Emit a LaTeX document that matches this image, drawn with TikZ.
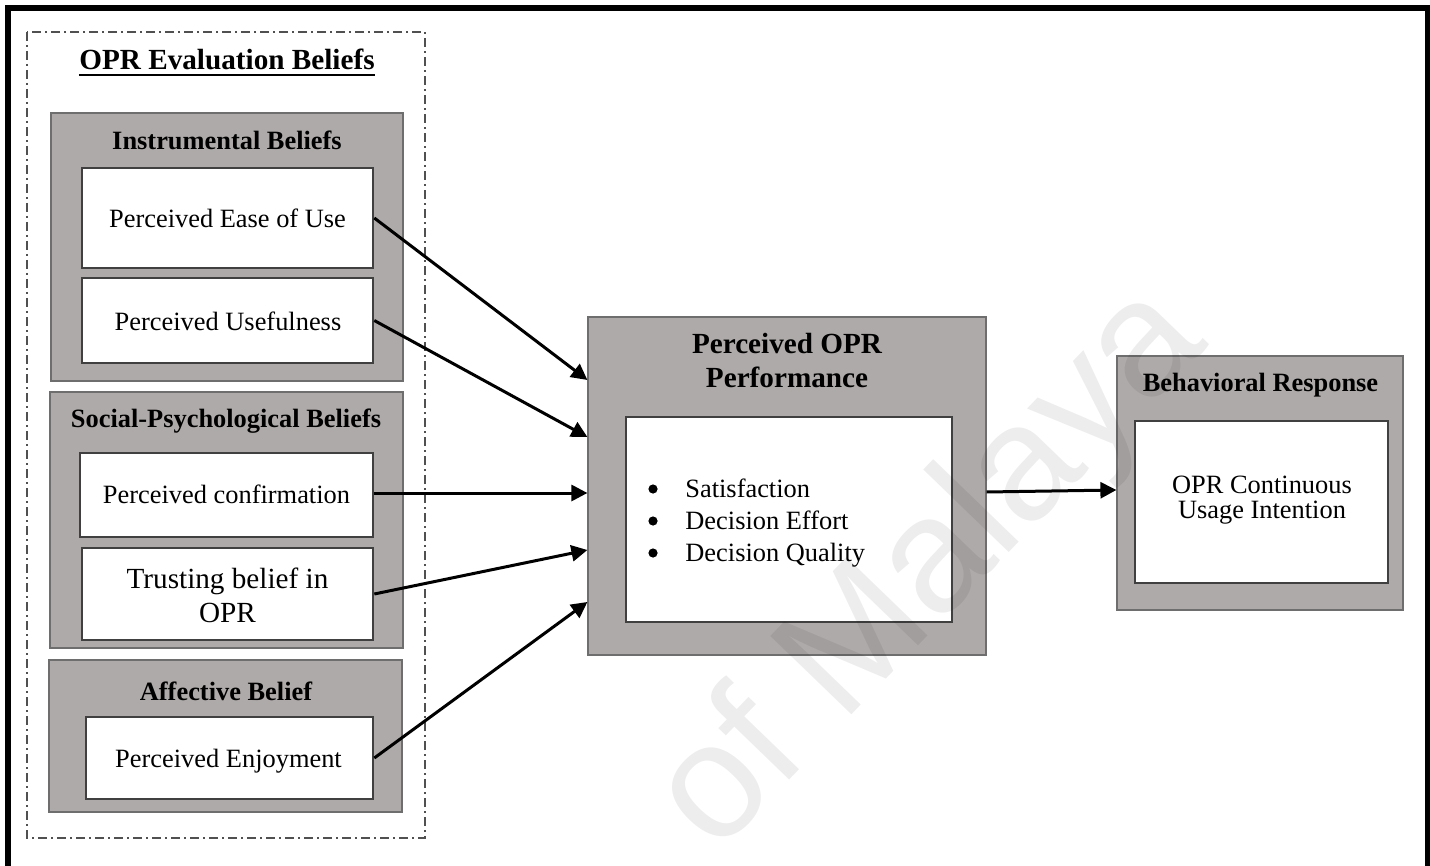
\documentclass[tikz,border=0pt]{standalone}
\usepackage{fontspec}
\setmainfont{Liberation Serif}
\newfontfamily\wmfont{Liberation Sans}
\usetikzlibrary{arrows.meta}

\definecolor{grpfill}{RGB}{174,170,169}
\definecolor{grpline}{RGB}{110,110,110}
\definecolor{itmline}{RGB}{64,64,64}
\definecolor{dashline}{RGB}{80,80,80}

\tikzset{
  grp/.style={draw=grpline, fill=grpfill, line width=0.6pt, inner sep=0pt},
  itm/.style={draw=itmline, fill=white, line width=1.3pt, inner sep=0pt},
  txt/.style={font=\fontsize{13.2}{15}\selectfont, inner sep=0pt, anchor=base},
  bigtxt/.style={font=\fontsize{14.6}{17}\selectfont, inner sep=0pt, anchor=base},
  hdr/.style={font=\bfseries\fontsize{13.2}{15}\selectfont, inner sep=0pt, anchor=base},
  bighdr/.style={font=\bfseries\fontsize{14.6}{17}\selectfont, inner sep=0pt, anchor=base},
  dotmark/.style={circle, fill=black, inner sep=0pt, minimum size=4.6pt},
  link/.style={line width=1.5pt, -{Triangle[length=8pt,width=8pt]}},
  wm/.style={font=\wmfont\fontsize{82}{88}\selectfont, text=black, text opacity=0.07, inner sep=0pt},
}

\begin{document}
\begin{tikzpicture}[x=0.5pt, y=-0.5pt]
\useasboundingbox (0,0) rectangle (1430,866);

% outer frame, open at the bottom
\draw[line width=3pt, miter limit=10] (8,880) -- (8,8.5) -- (1428,8.5) -- (1428,880);

% dash-dot frame around the belief groups
\draw[dashline, line width=0.8pt, dash pattern=on 4.5pt off 2pt on 1pt off 2pt]
  (27,32) rectangle (425,838);

\node[bighdr] (evaltitle) at (227,70) {OPR Evaluation Beliefs};
\draw[line width=1pt] ([yshift=-2.6pt]evaltitle.base west) -- ([yshift=-2.6pt]evaltitle.base east);

% instrumental beliefs
\node[grp, minimum width=176pt, minimum height=134pt] (instr) at (227,247) {};
\node[hdr] (instrtitle) at (227,150) {Instrumental Beliefs};
\node[itm, minimum width=145.5pt, minimum height=50pt] (ease) at (227.5,218) {};
\node[txt] (easetxt) at (227.5,228) {Perceived Ease of Use};
\node[itm, minimum width=145.5pt, minimum height=42.5pt] (useful) at (227.5,320.5) {};
\node[txt] (usefultxt) at (228,330) {Perceived Usefulness};

% social-psychological beliefs
\node[grp, minimum width=176.5pt, minimum height=128pt] (social) at (226.5,520) {};
\node[hdr] (socialtitle) at (226,427) {Social-Psychological Beliefs};
\node[itm, minimum width=146.5pt, minimum height=42pt] (conf) at (226.5,495) {};
\node[txt] (conftxt) at (226.5,503) {Perceived confirmation};
\node[itm, minimum width=145.5pt, minimum height=46pt] (trust) at (227.5,594) {};
\node[bigtxt] (trusttxta) at (227.5,588) {Trusting belief in};
\node[bigtxt] (trusttxtb) at (227.5,622) {OPR};

% affective belief
\node[grp, minimum width=176.5pt, minimum height=76pt] (affect) at (225.5,736) {};
\node[hdr] (affecttitle) at (226,700) {Affective Belief};
\node[itm, minimum width=143.5pt, minimum height=41pt] (enjoy) at (229.5,758) {};
\node[txt] (enjoytxt) at (228.5,767) {Perceived Enjoyment};

% perceived performance
\node[grp, minimum width=199pt, minimum height=169pt] (perf) at (787,486) {};
\node[bighdr] (perftitlea) at (787,353) {Perceived OPR};
\node[bighdr] (perftitleb) at (787,387) {Performance};
\node[itm, minimum width=163pt, minimum height=102.5pt] (perfin) at (789,519.5) {};
\node[dotmark] (bula) at (653,489) {};
\node[txt, anchor=base west] (sat) at (685,497) {Satisfaction};
\node[dotmark] (bulb) at (653,521) {};
\node[txt, anchor=base west] (effort) at (685,529) {Decision Effort};
\node[dotmark] (bulc) at (653,553) {};
\node[txt, anchor=base west] (quality) at (685,561) {Decision Quality};

% behavioral response
\node[grp, minimum width=143pt, minimum height=127pt] (behav) at (1260,483) {};
\node[hdr] (behavtitle) at (1260.5,391) {Behavioral Response};
\node[itm, minimum width=126.5pt, minimum height=81pt] (behavin) at (1261.5,502) {};
\node[txt] (intenta) at (1262,493) {OPR Continuous};
\node[txt] (intentb) at (1262,518) {Usage Intention};

% paths
\draw[link] (ease.east) -- ([yshift=53pt]perf.west);
\draw[link] (useful.east) -- ([yshift=24.5pt]perf.west);
\draw[link] ([yshift=1pt]conf.east) -- ([yshift=-3.5pt]perf.west);
\draw[link] (trust.east) -- ([yshift=-32pt]perf.west);
\draw[link] (enjoy.east) -- ([yshift=-58pt]perf.west);
\draw[link] ([yshift=-3pt]perf.east) -- ([yshift=-3.5pt]behav.west);

% faint diagonal watermark
\node[wm, rotate=46, anchor=base west] (wmark) at (716,856) {of Malaya};
\end{tikzpicture}
\end{document}
